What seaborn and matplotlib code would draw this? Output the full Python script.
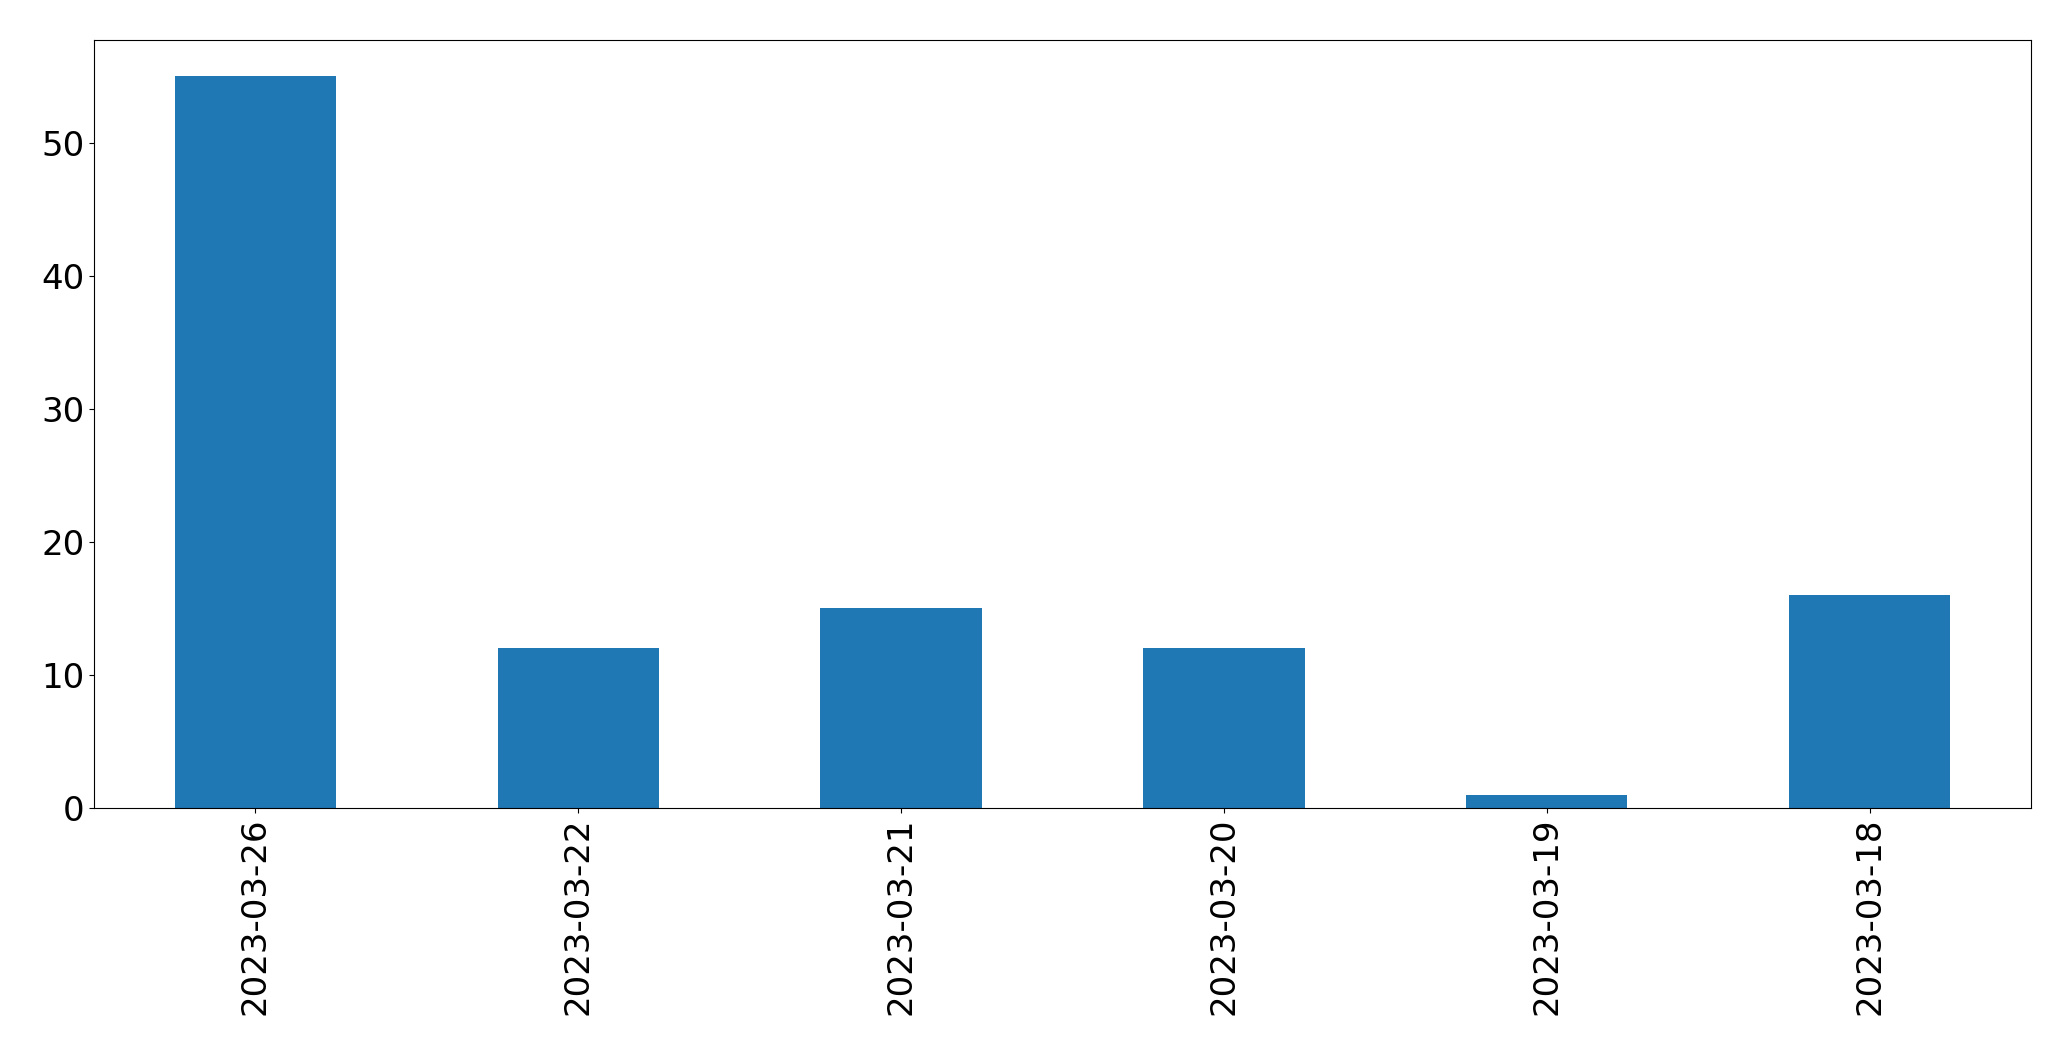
import matplotlib
matplotlib.use("Agg")
import matplotlib.pyplot as plt
import seaborn as sns
import pandas as pd

# counts per day, in the order shown
dates = ['2023-03-26', '2023-03-22', '2023-03-21', '2023-03-20', '2023-03-19', '2023-03-18']
counts = [55, 12, 15, 12, 1, 16]

df = pd.DataFrame({'date': dates, 'count': counts})

fig, ax = plt.subplots(figsize=(20.71, 10.61), dpi=100)
fig.subplots_adjust(left=0.0454, right=0.9807, bottom=0.2385, top=0.9627)

sns.barplot(data=df, x='date', y='count', order=dates, color='#1f77b4',
            saturation=1, width=0.5, ax=ax)

ax.set_xlim(-0.5, len(dates) - 0.5)
ax.set_ylim(0, max(counts) * 1.05)
ax.set_xlabel('')
ax.set_ylabel('')
ax.tick_params(axis='both', labelsize=24.5)
plt.setp(ax.get_xticklabels(), rotation=90)

fig.savefig('out.png', dpi=100)
